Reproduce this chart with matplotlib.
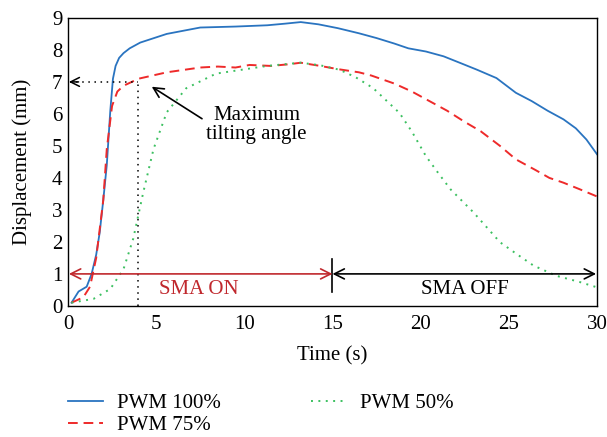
import matplotlib
matplotlib.use("Agg")
import matplotlib.pyplot as plt
import numpy as np

plt.rcParams['font.family'] = ['Liberation Serif', 'DejaVu Serif']

# PWM 100%
t100 = [0.2, 0.6, 1.06, 1.34, 1.6, 1.8, 2.0, 2.2, 2.4, 2.55, 2.7, 2.9, 3.15, 3.5, 4.1, 5.6, 7.5, 9.5, 11.3, 12.3, 13.2,
        14.2, 15.3, 16.5, 17.5, 18.5, 19.3, 20.3, 21.3, 22.3, 23.2, 24.3, 25.4, 26.3, 27.2, 28.1, 28.8, 29.4, 30.0]
v100 = [0.1, 0.45, 0.6, 1.0, 1.6, 2.3, 3.3, 4.4, 6.1, 7.1, 7.5, 7.75, 7.9, 8.05, 8.23, 8.5, 8.7, 8.73, 8.77, 8.82, 8.87,
        8.8, 8.68, 8.52, 8.37, 8.2, 8.05, 7.95, 7.8, 7.58, 7.38, 7.12, 6.66, 6.4, 6.1, 5.83, 5.55, 5.2, 4.74]

# PWM 75%
t75 = [0.2, 0.87, 1.25, 1.6, 2.0, 2.2, 2.5, 2.8, 3.15, 4.0, 5.6, 7.5, 8.5, 9.5, 10.3, 11.5, 12.5, 13.2,
       14.3, 15.3, 16.5, 17.2, 18.5, 19.5, 20.5, 21.5, 22.5, 23.4, 24.5, 25.4, 26.5, 27.3, 28.1, 29.0, 30.0]
v75 = [0.1, 0.27, 0.6, 1.5, 3.3, 4.9, 6.25, 6.7, 6.88, 7.1, 7.3, 7.45, 7.48, 7.45, 7.53, 7.5, 7.55, 7.6,
       7.5, 7.4, 7.3, 7.2, 6.95, 6.7, 6.4, 6.1, 5.75, 5.46, 5.0, 4.58, 4.25, 4.0, 3.85, 3.65, 3.42]

# PWM 50%
t50 = [0.2, 1.45, 2.4, 3.15, 3.7, 4.27, 4.85, 5.6, 6.7, 8.4, 11.3, 13.2, 14.3, 15.4, 16.3, 17.3, 18.8,
       19.5, 20.3, 21.0, 21.7, 23.0, 24.5, 25.5, 26.4, 27.7, 29.0, 30.0]
v50 = [0.1, 0.22, 0.53, 1.15, 2.1, 3.55, 4.9, 6.05, 6.8, 7.26, 7.5, 7.6, 7.52, 7.38, 7.15, 6.81, 6.03,
       5.45, 4.68, 4.15, 3.64, 2.92, 1.99, 1.6, 1.26, 0.94, 0.75, 0.58]

labels = ['PWM 100%', 'PWM 75%', 'PWM 50%']
xticks = [0, 5, 10, 15, 20, 25, 30]
yticks = list(range(10))

FS = 15

fig = plt.figure(figsize=(6.07, 4.37), dpi=100)
ax = fig.add_axes([0.112, 0.300, 0.8715, 0.659])

l1, = ax.plot(t100, v100, color='#2a74c0', lw=1.3, label=labels[0])
l2, = ax.plot(t75, v75, color='#ee2a2a', lw=1.4, ls=(0, (5, 3)), label=labels[1])
l3, = ax.plot(t50, v50, color='#3cc060', lw=1.4, ls=(0, (1, 2.8)), label=labels[2])

# maximum tilting angle guides
ax.plot([3.95, 3.95], [0, 7], color='black', lw=1.1, ls=(0, (1, 3)))
ax.plot([0.1, 3.95], [7, 7], color='black', lw=1.1, ls=(0, (1, 3)))
ax.annotate('', xy=(0.05, 7), xytext=(0.6, 7),
            arrowprops=dict(arrowstyle='->', color='black', lw=1.1, shrinkA=0, shrinkB=0,
                            mutation_scale=16))
ax.annotate('', xy=(4.75, 6.85), xytext=(7.6, 5.85),
            arrowprops=dict(arrowstyle='->', color='black', lw=1.2, shrinkA=0, shrinkB=0, mutation_scale=18))
ax.text(10.7, 5.65, 'Maximum\ntilting angle', ha='center', va='center', fontsize=FS, linespacing=1.05)

# SMA ON / OFF
ax.annotate('', xy=(0.05, 1), xytext=(15, 1),
            arrowprops=dict(arrowstyle='<->', color='#c0282d', lw=1.2, shrinkA=0, shrinkB=0, mutation_scale=18))
ax.annotate('', xy=(15, 1), xytext=(29.95, 1),
            arrowprops=dict(arrowstyle='<->', color='black', lw=1.2, shrinkA=0, shrinkB=0, mutation_scale=18))
ax.plot([15, 15], [0.42, 1.46], color='black', lw=1.2)
ax.text(7.4, 0.5, 'SMA ON', color='#c0282d', ha='center', va='center', fontsize=FS)
ax.text(22.5, 0.5, 'SMA OFF', color='black', ha='center', va='center', fontsize=FS)

ax.set_xlim(0, 30)
ax.set_ylim(0, 9)
ax.set_xticks(xticks)
ax.set_yticks(yticks)
ax.tick_params(length=0, labelsize=FS)
ax.tick_params(axis='x', pad=6.5)
ax.tick_params(axis='y', pad=4)
ax.set_xlabel('Time (s)', fontsize=FS, labelpad=9)
ax.set_ylabel('Displacement (mm)', fontsize=FS, labelpad=14)
for s in ax.spines.values():
    s.set_linewidth(1.0)

fig.legend(handles=[l1, l2, l3], labels=labels, loc='upper left', bbox_to_anchor=(0.112, 0.10),
           ncol=2, frameon=False, fontsize=FS, handlelength=1.7, columnspacing=4.3,
           labelspacing=0.12, handletextpad=0.67, borderpad=0, borderaxespad=0)

fig.savefig('out.png', dpi=100)
